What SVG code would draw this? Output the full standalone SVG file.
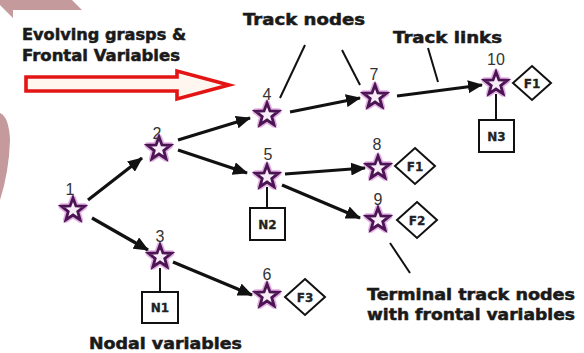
<svg xmlns="http://www.w3.org/2000/svg" width="584" height="353" viewBox="0 0 584 353">
  <style>
    .lbl { font-family: "DejaVu Sans", "Liberation Sans", sans-serif; font-weight: bold; font-size: 15px; fill: #1a1a1a; stroke: #1a1a1a; stroke-width: 0.5; }
    .num { font-family: "Liberation Sans", Arial, sans-serif; font-size: 16px; fill: #333; text-anchor: middle; }
    .tag { font-family: "DejaVu Sans", "Liberation Sans", sans-serif; font-weight: bold; font-size: 12px; fill: #222; stroke: #222; stroke-width: 0.3; text-anchor: middle; }
    .box { fill: #fff; stroke: #111; stroke-width: 2; }
    .link { stroke: #111; stroke-width: 3.2; fill: none; marker-end: url(#head); }
    .ptr { stroke: #111; stroke-width: 2; fill: none; }
    .stem { stroke: #111; stroke-width: 2; }
    .deco { fill: #c49a9c; }
  </style>
  <defs>
    <marker id="head" markerUnits="userSpaceOnUse" markerWidth="15" markerHeight="13" refX="14" refY="6.5" orient="auto">
      <path d="M0,0 L15,6.5 L0,13 Z" fill="#111"/>
    </marker>
    <path id="starShape" d="M0,-12 L2.94,-4.05 L11.41,-3.71 L4.76,1.55 L7.05,9.71 L0,5 L-7.05,9.71 L-4.76,1.55 L-11.41,-3.71 L-2.94,-4.05 Z"/>
    <g id="star">
      <use href="#starShape" fill="none" stroke="#c04cc0" stroke-width="6" stroke-opacity="0.45" stroke-linejoin="round"/>
      <use href="#starShape" fill="#f9ecf9" stroke="#4a1552" stroke-width="2.8" stroke-linejoin="miter"/>
    </g>
  </defs>

  <rect width="584" height="353" fill="#fff"/>

  <!-- slide decorations -->
  <path class="deco" d="M0,0 L72,0 L82,10 L13,10 L13,18 L0,5 Z"/>
  <path class="deco" d="M0,113 Q9,117 10,140 Q9,172 0,200 Z"/>

  <!-- legend: evolving grasps -->
  <g id="legend">
    <text class="lbl" x="22" y="40" textLength="164" lengthAdjust="spacingAndGlyphs">Evolving grasps &amp;</text>
    <text class="lbl" x="22" y="61" textLength="158" lengthAdjust="spacingAndGlyphs">Frontal Variables</text>
    <path d="M26,77 L177,77 L177,71 L229,85 L177,99 L177,91 L26,91 Z" fill="#fff6f0" stroke="#e31414" stroke-width="3.6"/>
  </g>

  <!-- callout labels -->
  <g id="callouts">
    <text class="lbl" x="243" y="25" textLength="122" lengthAdjust="spacingAndGlyphs">Track nodes</text>
    <text class="lbl" x="393" y="43" textLength="109" lengthAdjust="spacingAndGlyphs">Track links</text>
    <text class="lbl" x="367" y="300" textLength="208" lengthAdjust="spacingAndGlyphs">Terminal track nodes</text>
    <text class="lbl" x="367" y="320" textLength="208" lengthAdjust="spacingAndGlyphs">with frontal variables</text>
    <text class="lbl" x="89" y="349" textLength="153" lengthAdjust="spacingAndGlyphs">Nodal variables</text>
    <path class="ptr" d="M305,45 L280,98"/>
    <path class="ptr" d="M342,50 L360,85"/>
    <path class="ptr" d="M428,48 L438,82"/>
    <path class="ptr" d="M390,243 L410,273"/>
  </g>

  <!-- track links -->
  <g id="connectors">
    <line class="link" x1="88" y1="200" x2="142" y2="158"/>
    <line class="link" x1="92" y1="218" x2="148" y2="250"/>
    <line class="link" x1="178" y1="140" x2="250" y2="118"/>
    <line class="link" x1="178" y1="150" x2="247" y2="173"/>
    <line class="link" x1="173" y1="262" x2="252" y2="295"/>
    <line class="link" x1="290" y1="112" x2="360" y2="98"/>
    <line class="link" x1="397" y1="96" x2="482" y2="85"/>
    <line class="link" x1="285" y1="174" x2="365" y2="168"/>
    <line class="link" x1="282" y1="185" x2="360" y2="218"/>
    <line class="stem" x1="160" y1="268" x2="160" y2="292"/>
    <line class="stem" x1="267" y1="187" x2="267" y2="208"/>
    <line class="stem" x1="496" y1="94" x2="496" y2="120"/>
  </g>

  <!-- track nodes -->
  <g id="node1"><use href="#star" x="73" y="210"/><text class="num" x="70" y="195">1</text></g>
  <g id="node2"><use href="#star" x="159" y="149"/><text class="num" x="157" y="139">2</text></g>
  <g id="node3"><use href="#star" x="160" y="257"/><text class="num" x="160" y="242">3</text></g>
  <g id="node4"><use href="#star" x="267" y="115"/><text class="num" x="267" y="100">4</text></g>
  <g id="node5"><use href="#star" x="267" y="177"/><text class="num" x="268" y="160">5</text></g>
  <g id="node6"><use href="#star" x="267" y="296"/><text class="num" x="267" y="280">6</text></g>
  <g id="node7"><use href="#star" x="375" y="97"/><text class="num" x="374" y="80">7</text></g>
  <g id="node8"><use href="#star" x="378" y="168"/><text class="num" x="377" y="150">8</text></g>
  <g id="node9"><use href="#star" x="378" y="220"/><text class="num" x="378" y="205">9</text></g>
  <g id="node10"><use href="#star" x="496" y="84"/><text class="num" x="496" y="65">10</text></g>

  <!-- nodal variables -->
  <g id="N1"><rect class="box" x="142" y="292" width="36" height="31"/><text class="tag" x="160" y="312">N1</text></g>
  <g id="N2"><rect class="box" x="250" y="208" width="35" height="32"/><text class="tag" x="267.5" y="229">N2</text></g>
  <g id="N3"><rect class="box" x="479" y="120" width="35" height="32"/><text class="tag" x="496.5" y="141">N3</text></g>

  <!-- frontal variables -->
  <g id="F1a"><path class="box" d="M415,148 L435,166 L415,184 L395,166 Z"/><text class="tag" x="415" y="170.5">F1</text></g>
  <g id="F2"><path class="box" d="M417,202 L437,220 L417,238 L397,220 Z"/><text class="tag" x="417" y="224.5">F2</text></g>
  <g id="F3"><path class="box" d="M305,279 L325,297 L305,315 L285,297 Z"/><text class="tag" x="305" y="301.5">F3</text></g>
  <g id="F1b"><path class="box" d="M532,66 L551,83 L532,100 L513,83 Z"/><text class="tag" x="532" y="87.5">F1</text></g>
</svg>
